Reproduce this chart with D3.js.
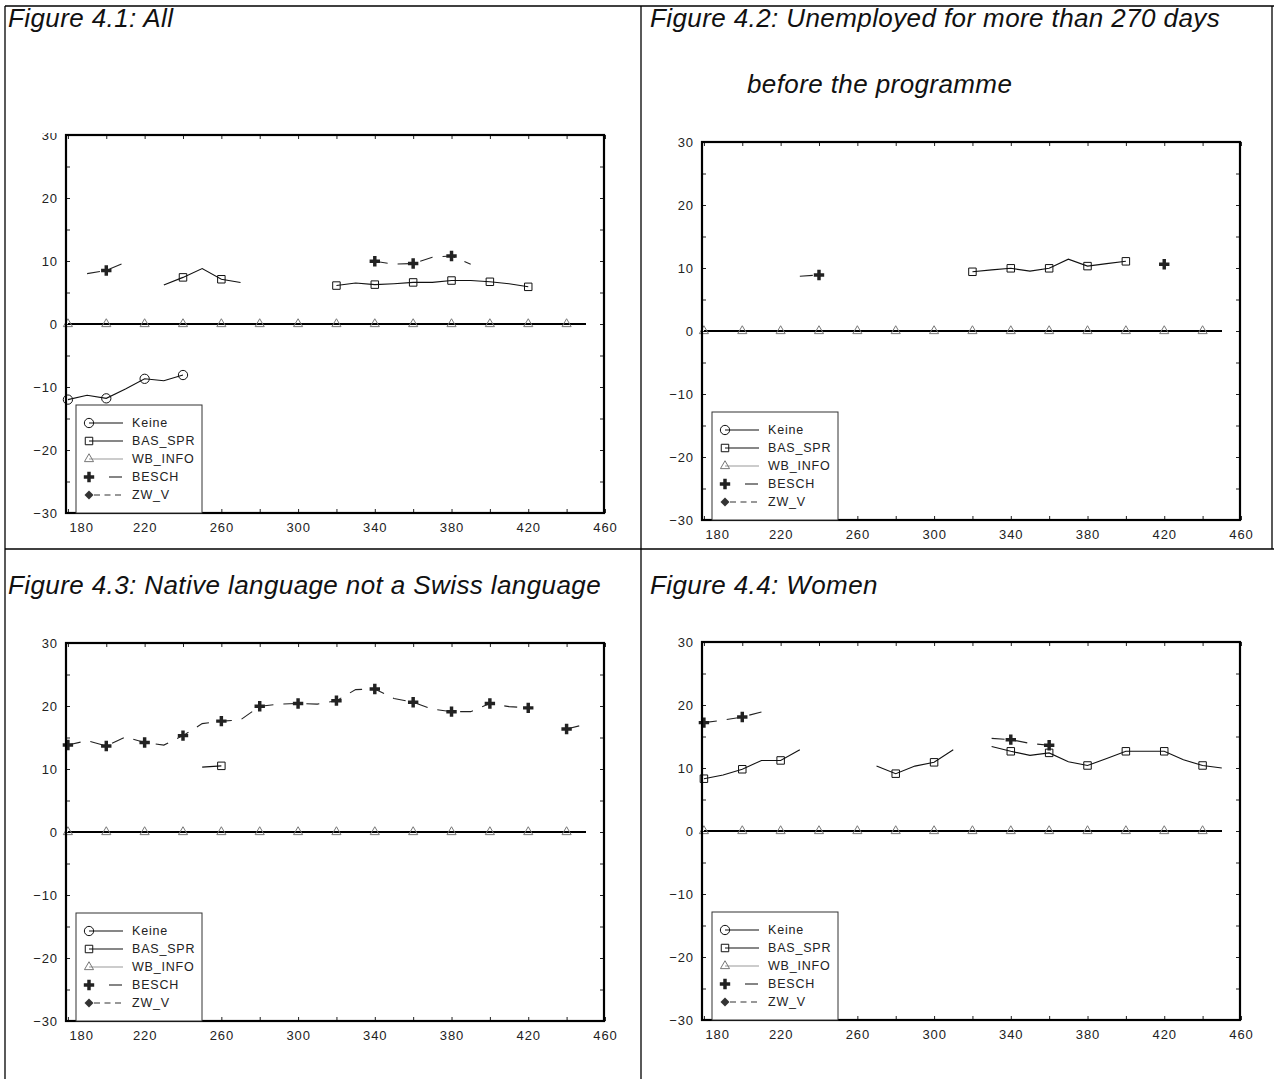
<!DOCTYPE html>
<html>
<head>
<meta charset="utf-8">
<script src="https://cdn.jsdelivr.net/npm/d3@7"></script>
<style>
  body { margin: 0; background: #fff; }
  svg { display: block; }
  text { font-family: "Liberation Sans", Arial, sans-serif; }
</style>
</head>
<body>
<svg id="chart" width="1274" height="1079"></svg>
<script>
// days since start (x), one value every 10 days, null = no estimate
var days = [180,190,200,210,220,230,240,250,260,270,280,290,300,310,320,330,340,350,360,370,380,390,400,410,420,430,440,450];

var xTicks = [180,200,220,240,260,280,300,320,340,360,380,400,420,440,460];
var xLabels = [180,220,260,300,340,380,420,460];
var yTicks = [-30,-25,-20,-15,-10,-5,0,5,10,15,20,25,30];
var yLabels = [-30,-20,-10,0,10,20,30];

var seriesNames = ["Keine", "BAS_SPR", "WB_INFO", "BESCH", "ZW_V"];

var titles = [
  ["Figure 4.1: All"],
  ["Figure 4.2: Unemployed for more than 270 days", "before the programme"],
  ["Figure 4.3: Native language not a Swiss language"],
  ["Figure 4.4: Women"]
];

var wbInfo = [0,0,0,0,0,0,0,0,0,0,0,0,0,0,0,0,0,0,0,0,0,0,0,0,0,0,0,0];

// Figure 4.1
var keine1  = [-12.0,-11.3,-11.8,-10.3,-8.7,-9.0,-8.1,null,null,null,null,null,null,null,null,null,null,null,null,null,null,null,null,null,null,null,null,null];
var basSpr1 = [null,null,null,null,null,6.2,7.4,8.8,7.1,6.6,null,null,null,null,6.1,6.5,6.25,6.4,6.6,6.6,6.9,6.9,6.7,6.4,5.9,null,null,null];
var besch1  = [null,8.0,8.5,9.8,null,null,null,null,null,null,null,null,null,null,null,null,9.95,9.5,9.6,10.6,10.8,9.5,null,null,null,null,null,null];

// Figure 4.2
var basSpr2 = [null,null,null,null,null,null,null,null,null,null,null,null,null,null,9.4,9.7,9.95,9.5,9.95,11.4,10.3,10.7,11.06,null,null,null,null,null];
var besch2  = [null,null,null,null,null,8.7,8.9,null,null,null,null,null,null,null,null,null,null,null,null,null,null,null,null,null,10.6,null,null,null];

// Figure 4.3
var basSpr3 = [null,null,null,null,null,null,null,10.3,10.5,null,null,null,null,null,null,null,null,null,null,null,null,null,null,null,null,null,null,null];
var besch3  = [13.8,14.5,13.65,15.1,14.2,13.8,15.3,17.2,17.6,17.8,19.95,20.3,20.4,20.3,20.85,22.6,22.7,21.2,20.6,19.5,19.1,19.1,20.4,19.9,19.7,null,16.35,17.1];

// Figure 4.4
var basSpr4 = [8.3,8.9,9.8,11.2,11.2,12.9,null,null,null,10.3,9.1,10.3,10.9,12.9,null,13.4,12.65,12.0,12.4,11.0,10.4,11.5,12.65,12.65,12.65,11.3,10.4,10.0];
var besch4  = [17.2,17.6,18.1,18.9,null,null,null,null,null,null,null,null,null,null,null,14.7,14.5,13.9,13.6,null,null,null,null,null,null,null,null,null];

var panelSeries = [
  {"WB_INFO": wbInfo, "Keine": keine1, "BAS_SPR": basSpr1, "BESCH": besch1},
  {"WB_INFO": wbInfo, "BAS_SPR": basSpr2, "BESCH": besch2},
  {"WB_INFO": wbInfo, "BAS_SPR": basSpr3, "BESCH": besch3},
  {"WB_INFO": wbInfo, "BAS_SPR": basSpr4, "BESCH": besch4}
];

// look of each series
var styles = {
  "Keine":   {symbol: d3.symbolCircle,   size: 68, rot: 0,  fill: "none", stroke: "#111", line: "#111", dash: null},
  "BAS_SPR": {symbol: d3.symbolSquare,   size: 56, rot: 0,  fill: "none", stroke: "#111", line: "#111", dash: null},
  "WB_INFO": {symbol: d3.symbolTriangle, size: 36, rot: 0,  fill: "none", stroke: "#777", line: "#000", legendLine: "#999", dash: null},
  "BESCH":   {symbol: d3.symbolCross,    size: 60, rot: 0,  fill: "#222", stroke: "none", line: "#222", dash: "13,10"},
  "ZW_V":    {symbol: d3.symbolSquare,   size: 40, rot: 45, fill: "#333", stroke: "none", line: "#333", dash: "6,4.5"}
};

var W = 538, H = 378;
var layout = [
  {x: 66,  y: 135, tx: 8,   ty: [27],      tdx: [0]},
  {x: 702, y: 142, tx: 650, ty: [27, 93],  tdx: [0, 97]},
  {x: 66,  y: 643, tx: 8,   ty: [594],     tdx: [0]},
  {x: 702, y: 642, tx: 650, ty: [594],     tdx: [0]}
];

var svg = d3.select("#chart");

// page grid
var grid = svg.append("g").attr("stroke", "#000").attr("stroke-width", 1.3);
grid.append("line").attr("x1", 5).attr("y1", 6).attr("x2", 1274).attr("y2", 6);
grid.append("line").attr("x1", 5).attr("y1", 6).attr("x2", 5).attr("y2", 1079);
grid.append("line").attr("x1", 641).attr("y1", 6).attr("x2", 641).attr("y2", 1079);
grid.append("line").attr("x1", 5).attr("y1", 549).attr("x2", 1274).attr("y2", 549);
grid.append("line").attr("x1", 1272).attr("y1", 6).attr("x2", 1272).attr("y2", 549);

svg.append("clipPath").attr("id", "clip1")
  .append("rect").attr("x", -100).attr("y", -2).attr("width", 1000).attr("height", 1000);

var x = d3.scaleLinear().domain([179, 459.5]).range([0, W]);
var y = d3.scaleLinear().domain([-30, 30]).range([H, 0]);

var line = d3.line()
  .defined(function(d) { return d.v !== null; })
  .x(function(d) { return x(d.x); })
  .y(function(d) { return y(d.v); });

function fmtY(d) {
  if (yLabels.indexOf(d) < 0) return "";
  return d < 0 ? "\u2212" + Math.abs(d) : String(d);
}

layout.forEach(function(p, i) {
  // titles
  titles[i].forEach(function(t, k) {
    svg.append("text")
      .attr("x", p.tx + p.tdx[k])
      .attr("y", p.ty[k])
      .attr("font-size", 26)
      .attr("letter-spacing", 0.4)
      .attr("font-style", "italic")
      .attr("fill", "#111")
      .text(t);
  });

  var g = svg.append("g").attr("transform", "translate(" + p.x + "," + p.y + ")");
  if (i === 0) g.attr("clip-path", "url(#clip1)");

  // axes, ticks pointing inwards
  var xb = g.append("g").attr("transform", "translate(0," + H + ")")
    .call(d3.axisBottom(x).tickValues(xTicks).tickSize(-4).tickPadding(10)
      .tickFormat(function(d) { return xLabels.indexOf(d) >= 0 ? d : ""; }));
  xb.selectAll(".tick text").filter(function(d) { return d === 180; })
    .attr("text-anchor", "start").attr("dx", 1);
  g.append("g").call(d3.axisTop(x).tickValues(xTicks).tickSize(-4).tickFormat(""));
  g.append("g")
    .call(d3.axisLeft(y).tickValues(yTicks).tickSize(-4).tickPadding(8).tickFormat(fmtY));
  g.append("g").attr("transform", "translate(" + W + ",0)")
    .call(d3.axisRight(y).tickValues(yTicks).tickSize(-4).tickFormat(""));
  g.selectAll(".domain").remove();
  g.selectAll(".tick line").attr("stroke", "#222");
  g.selectAll(".tick text").attr("font-size", 13).attr("letter-spacing", 0.9)
    .attr("fill", "#222").attr("font-family", "Liberation Sans, Arial, sans-serif");

  // series
  var sers = panelSeries[i];
  Object.keys(sers).forEach(function(name) {
    var st = styles[name];
    var pts = days.map(function(d, j) { return {x: d, v: sers[name][j]}; });
    var path = g.append("path")
      .datum(pts)
      .attr("fill", "none")
      .attr("stroke", st.line)
      .attr("stroke-width", 1.1)
      .attr("stroke-dasharray", st.dash)
      .attr("d", line);
    if (name === "WB_INFO") path.attr("shape-rendering", "crispEdges").attr("stroke-width", 1.3);
    g.selectAll(null)
      .data(pts.filter(function(d) { return d.v !== null && d.x % 20 === 0; }))
      .enter().append("path")
      .attr("transform", function(d) { return "translate(" + x(d.x) + "," + y(d.v) + ") rotate(" + st.rot + ")"; })
      .attr("d", d3.symbol().type(st.symbol).size(st.size))
      .attr("fill", st.fill)
      .attr("stroke", st.stroke)
      .attr("stroke-width", 1);
  });

  // frame
  g.append("rect").attr("width", W).attr("height", H)
    .attr("fill", "none").attr("stroke", "#000").attr("stroke-width", 2.2);

  // legend
  var lg = g.append("g").attr("transform", "translate(10," + (H - 108) + ")");
  lg.append("rect").attr("width", 126).attr("height", 108)
    .attr("fill", "#fff").attr("stroke", "#333").attr("stroke-width", 1);
  seriesNames.forEach(function(name, k) {
    var st = styles[name];
    var cy = 18 * (k + 1);
    var x0 = 13;
    if (name === "BESCH") {
      lg.append("line").attr("x1", x0 + 20).attr("x2", x0 + 33).attr("y1", cy).attr("y2", cy)
        .attr("stroke", st.line).attr("stroke-width", 1.1);
    } else {
      lg.append("line").attr("x1", name === "ZW_V" ? x0 + 5 : x0).attr("x2", x0 + 34)
        .attr("y1", cy).attr("y2", cy)
        .attr("stroke", st.legendLine || st.line).attr("stroke-width", 1.1)
        .attr("stroke-dasharray", st.dash);
    }
    lg.append("path")
      .attr("transform", "translate(" + x0 + "," + cy + ") rotate(" + st.rot + ")")
      .attr("d", d3.symbol().type(st.symbol).size(st.size))
      .attr("fill", st.fill).attr("stroke", st.stroke).attr("stroke-width", 1);
    lg.append("text")
      .attr("x", 56).attr("y", cy).attr("dy", "0.35em")
      .attr("font-size", 12.5).attr("letter-spacing", 0.8).attr("fill", "#222")
      .text(name);
  });
});
</script>
</body>
</html>
